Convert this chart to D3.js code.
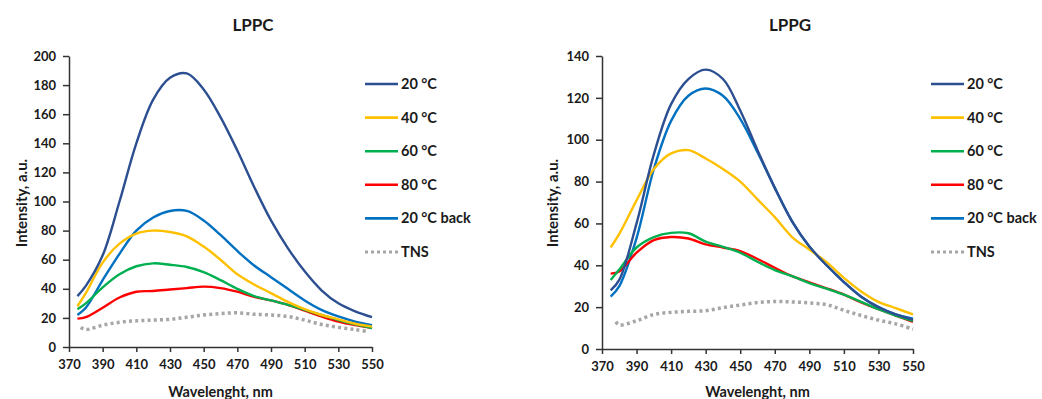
<!DOCTYPE html>
<html lang="en">
<head>
  <meta charset="UTF-8">
  <title>LPPC / LPPG</title>
  <style>
    body { margin: 0; background: #fff; }
    text { font-family: Lato, "Open Sans", sans-serif; font-weight: bold; fill: #1a1a1a; }
  </style>
</head>
<body>
<svg id="chart" width="1042" height="399"></svg>

<script src="https://d3js.org/d3.v7.min.js"></script>
<script>
// wavelengths (nm) shared by the solid curves
var wl = [375, 380, 390, 400, 410, 420, 430, 440, 450, 460, 470, 480, 490, 500, 510, 520, 530, 540, 550];
var xTicks = [370, 390, 410, 430, 450, 470, 490, 510, 530, 550];
var labels = ["20 °C", "40 °C", "60 °C", "80 °C", "20 °C back", "TNS"];
var colors = ["#2c4f91", "#ffc000", "#00b050", "#ff0000", "#0070c0", "#a6a6a6"];

// LPPC
var lppc20   = [35, 42, 63, 100, 140, 170, 185, 188, 177, 158, 135, 110, 87, 68, 52, 39, 30, 24.5, 20.5];
var lppc40   = [28, 37, 58, 71, 78, 80, 79, 76, 69, 60, 50, 43, 37, 31, 26, 22, 19, 16, 14];
var lppc60   = [26, 30, 41, 50, 55.5, 57.5, 56.5, 55, 51.5, 46, 40, 35, 32, 29, 25.5, 22, 18.5, 15.5, 13];
var lppc80   = [19.5, 20.5, 27, 34, 38, 38.5, 39.5, 40.5, 41.5, 40.5, 38, 34.5, 32, 29, 25, 21, 17.5, 15, 13];
var lppcBack = [22, 27, 46, 64, 80, 89, 93.5, 93.5, 87, 77, 66, 56, 48, 40, 32, 25.5, 21, 17.5, 15];
var lppcTnsWl = [377, 380, 390, 400, 410, 420, 430, 440, 450, 460, 470, 480, 490, 500, 510, 520, 530, 540, 548];
var lppcTns   = [13.5, 12, 15, 17, 18, 18.5, 19, 20.5, 22, 23, 23.5, 22.5, 22, 21, 18.5, 15.5, 13.5, 12, 10.5];

// LPPG
var lppg20   = [28, 33, 60, 93, 117, 129, 133.5, 129, 114, 95, 77, 61, 49, 40, 32, 25, 20, 16.5, 14];
var lppg40   = [48.5, 55, 71, 86, 93.5, 95, 91, 86, 80, 71.5, 63, 53.5, 47.5, 41.5, 34, 27.5, 22.5, 19.5, 16.5];
var lppg60   = [33, 38, 48.5, 53.5, 55.5, 55.3, 51.3, 48.8, 46, 41.7, 37.7, 34.8, 31.5, 28.8, 26, 22.5, 19, 16, 13.5];
var lppg80   = [36, 37, 46, 52, 53.5, 52.8, 50, 48.5, 46.8, 43, 38.8, 34.8, 31.8, 29, 26, 22.3, 19, 16, 13];
var lppgBack = [25, 30, 53, 86, 109, 121, 124.5, 121, 110, 94, 77, 61, 49, 40, 32, 25, 20, 16.5, 14.5];
var lppgTnsWl = [378, 380, 390, 400, 410, 420, 430, 440, 450, 460, 470, 480, 490, 500, 510, 520, 530, 540, 550];
var lppgTns   = [13, 11.5, 13.5, 16.5, 17.5, 18, 18.3, 19.8, 21, 22.2, 22.7, 22.5, 22, 21.2, 18.5, 16, 13.8, 12, 9.5];

var svg = d3.select("#chart");

function panel(o) {
  var x = d3.scaleLinear().domain([370, 550]).range([o.left, o.right]);
  var y = d3.scaleLinear().domain([0, o.ymax]).range([o.bottom, o.top]);
  var g = svg.append("g");

  // axes
  var ax = g.append("g").attr("transform", "translate(0," + o.bottom + ")")
    .call(d3.axisBottom(x).tickValues(xTicks).tickSize(5).tickPadding(8).tickSizeOuter(0));
  var ay = g.append("g").attr("transform", "translate(" + o.left + ",0)")
    .call(d3.axisLeft(y).ticks(o.ymax / 20).tickSize(6).tickPadding(7).tickSizeOuter(0));
  [ax, ay].forEach(function (a) {
    a.selectAll("path, line").attr("stroke", "#333").attr("stroke-width", 1.5);
    a.selectAll("text").style("font-size", "13px").attr("fill", "#1a1a1a");
  });

  var line = d3.line()
    .x(function (d) { return x(d[0]); })
    .y(function (d) { return y(d[1]); })
    .curve(d3.curveCatmullRom.alpha(0.5));

  // TNS first so it sits underneath
  g.append("path")
    .attr("d", line(d3.zip(o.tnsWl, o.tns)))
    .attr("fill", "none").attr("stroke", colors[5])
    .attr("stroke-width", 3.5).attr("stroke-dasharray", "3 3.2");

  var order = [4, 3, 2, 1, 0];
  order.forEach(function (i) {
    g.append("path")
      .attr("d", line(d3.zip(wl, o.series[i])))
      .attr("fill", "none").attr("stroke", colors[i])
      .attr("stroke-width", 2.4).attr("stroke-linejoin", "round");
  });

  // titles
  g.append("text").attr("x", o.titleX).attr("y", 31)
    .attr("text-anchor", "middle").style("font-size", "17px").text(o.title);
  g.append("text").attr("x", (o.left + o.right) / 2).attr("y", 397)
    .attr("text-anchor", "middle").style("font-size", "14.5px").text("Wavelenght, nm");
  g.append("text")
    .attr("transform", "translate(" + o.ylabX + ",203) rotate(-90)")
    .attr("text-anchor", "middle").style("font-size", "15px").text("Intensity, a.u.");

  // legend
  labels.forEach(function (lab, i) {
    var ly = 84 + i * 33.6;
    g.append("line")
      .attr("x1", o.legX).attr("x2", o.legX + 33).attr("y1", ly).attr("y2", ly)
      .attr("stroke", colors[i])
      .attr("stroke-width", i == 5 ? 3 : 2.6)
      .attr("stroke-dasharray", i == 5 ? "3 3" : null);
    g.append("text").attr("x", o.legX + 36).attr("y", ly + 5)
      .style("font-size", "14.5px").text(lab);
  });
}

panel({
  title: "LPPC", titleX: 253, left: 69, right: 372, top: 56, bottom: 347, ymax: 200,
  ylabX: 27, legX: 365,
  series: [lppc20, lppc40, lppc60, lppc80, lppcBack], tnsWl: lppcTnsWl, tns: lppcTns
});
panel({
  title: "LPPG", titleX: 790, left: 602, right: 913, top: 56, bottom: 349, ymax: 140,
  ylabX: 558, legX: 931,
  series: [lppg20, lppg40, lppg60, lppg80, lppgBack], tnsWl: lppgTnsWl, tns: lppgTns
});
</script>
</body>
</html>
